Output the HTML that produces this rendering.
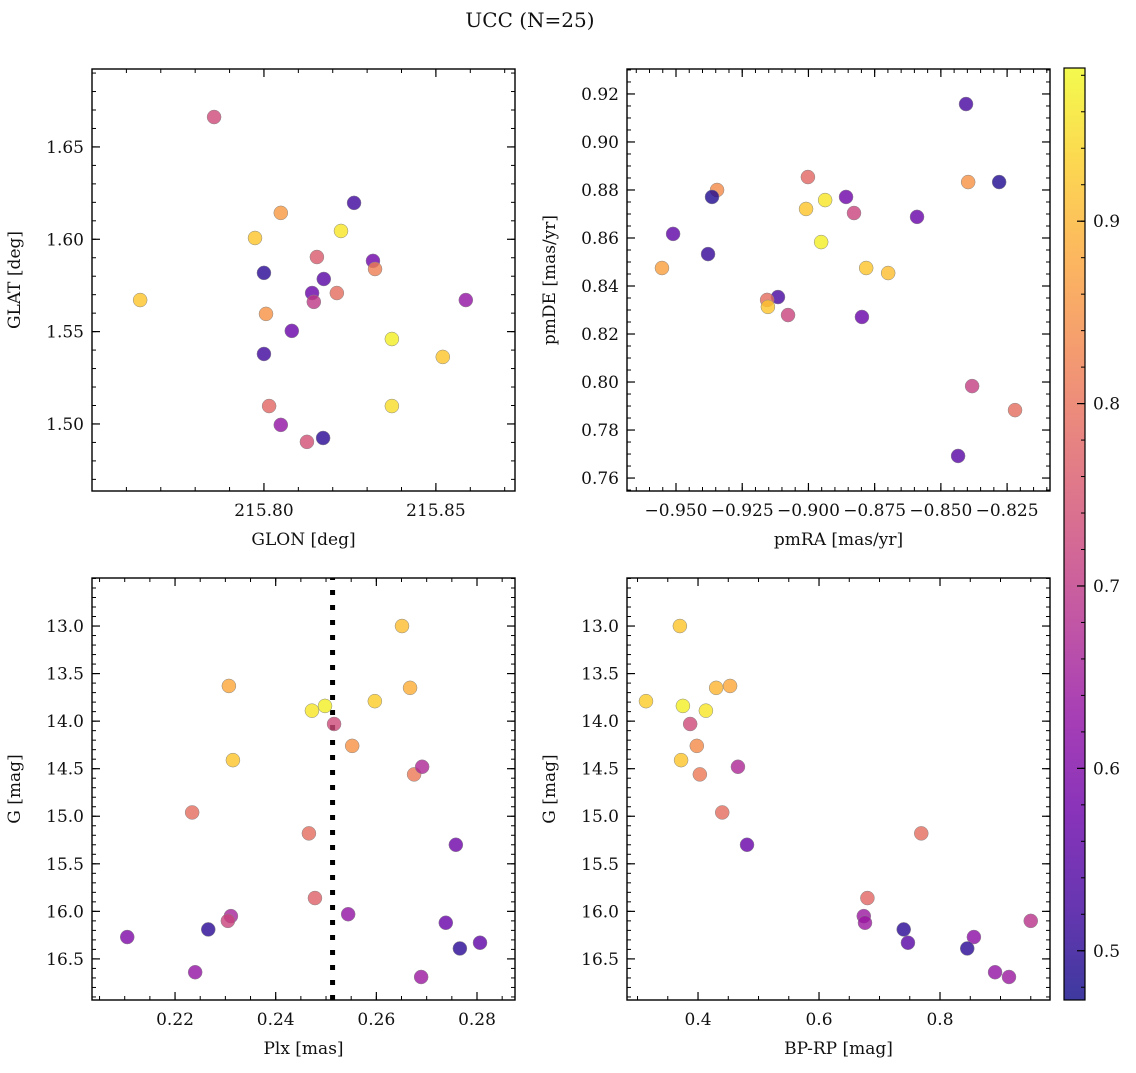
<!DOCTYPE html>
<html><head><meta charset="utf-8"><style>
body{margin:0;background:#fff;}
svg text{font-family:"DejaVu Serif","Liberation Serif",serif;fill:#111;}
</style></head><body>
<svg id="fig" width="1136" height="1068" xmlns="http://www.w3.org/2000/svg">
<text x="530" y="27" font-size="20" text-anchor="middle">UCC (N=25)</text>
</svg>
<script>
// Panel 1: GLON vs GLAT
const p1x=[215.7855,215.8049,215.8262,215.7974,215.8224,215.8154,215.8317,215.8000,215.8323,215.8174,215.8140,215.8212,215.8145,215.7640,215.8006,215.8081,215.8372,215.8000,215.8520,215.8587,215.8015,215.8372,215.8049,215.8125,215.8172];
const p1y=[1.6662,1.6143,1.6197,1.6007,1.6045,1.5904,1.5883,1.5818,1.5839,1.5785,1.5709,1.5709,1.5661,1.5671,1.5596,1.5504,1.5460,1.5379,1.5363,1.5671,1.5097,1.5097,1.4995,1.4903,1.4924];
const p1c=[0.73,0.86,0.52,0.92,0.96,0.76,0.58,0.50,0.82,0.55,0.57,0.79,0.70,0.92,0.85,0.57,0.97,0.52,0.92,0.63,0.78,0.95,0.63,0.74,0.50];
// Panel 2: pmRA vs pmDE
const p2x=[-0.8405,-0.8280,-0.8397,-0.9002,-0.9345,-0.9364,-0.8858,-0.8937,-0.9009,-0.8828,-0.8590,-0.9511,-0.8952,-0.9379,-0.9553,-0.8782,-0.8699,-0.9115,-0.9156,-0.9153,-0.9077,-0.8798,-0.8382,-0.8220,-0.8435];
const p2y=[0.9158,0.8833,0.8833,0.8854,0.8800,0.8771,0.8771,0.8758,0.8721,0.8704,0.8688,0.8617,0.8583,0.8533,0.8475,0.8475,0.8454,0.8354,0.8342,0.8313,0.8279,0.8271,0.7983,0.7883,0.7692];
const p2c=[0.53,0.49,0.85,0.78,0.84,0.49,0.58,0.96,0.92,0.72,0.57,0.56,0.97,0.51,0.87,0.92,0.91,0.53,0.79,0.92,0.72,0.57,0.71,0.79,0.55];
// Panel 3: Plx vs G
const p3x=[0.2651,0.2307,0.2667,0.2498,0.2472,0.2597,0.2516,0.2315,0.2552,0.2675,0.2691,0.2234,0.2466,0.2758,0.2478,0.2311,0.2305,0.2544,0.2266,0.2738,0.2105,0.2806,0.2766,0.2240,0.2689];
const p3y=[13.00,13.63,13.65,13.84,13.89,13.79,14.03,14.41,14.26,14.56,14.48,14.96,15.18,15.30,15.86,16.05,16.10,16.03,16.19,16.12,16.27,16.33,16.39,16.64,16.69];
const p3c=[0.91,0.88,0.89,0.97,0.96,0.93,0.73,0.92,0.85,0.81,0.67,0.79,0.79,0.58,0.77,0.66,0.72,0.63,0.50,0.57,0.60,0.56,0.50,0.63,0.64];
const plxLine=0.2513;
// Panel 4: BP-RP vs G
const p4x=[0.370,0.314,0.375,0.430,0.453,0.413,0.387,0.372,0.398,0.403,0.466,0.440,0.769,0.481,0.680,0.674,0.676,0.950,0.740,0.856,0.747,0.845,0.891,0.914];
const p4y=[13.00,13.79,13.84,13.65,13.63,13.89,14.03,14.41,14.26,14.56,14.48,14.96,15.18,15.30,15.86,16.05,16.12,16.10,16.19,16.27,16.33,16.39,16.64,16.69];
const p4c=[0.92,0.93,0.97,0.90,0.88,0.96,0.73,0.92,0.84,0.81,0.67,0.79,0.79,0.57,0.78,0.64,0.64,0.69,0.50,0.62,0.55,0.50,0.63,0.64];
const cbTicks=[0.5,0.6,0.7,0.8,0.9];

const NS="http://www.w3.org/2000/svg";
const svg=document.getElementById('fig');
const stops=["#0d0887","#41049d","#6a00a8","#8f0da4","#b12a90","#cc4778","#e16462","#f2844b","#fca636","#fcce25","#f0f921"];
const VMIN=0.473,VMAX=0.984,ALPHA=0.8;
function hex(h){return [1,3,5].map(i=>parseInt(h.substr(i,2),16));}
function plasma(t){t=Math.max(0,Math.min(1,t));const f=t*10,i=Math.min(9,Math.floor(f)),r=f-i;const a=hex(stops[i]),b=hex(stops[i+1]);return 'rgb('+a.map((v,k)=>Math.round(v+(b[k]-v)*r)).join(',')+')';}
function cmap(v){return plasma((v-VMIN)/(VMAX-VMIN));}
function mk(tag,at,parent){const e=document.createElementNS(NS,tag);for(const k in at)e.setAttribute(k,at[k]);(parent||svg).appendChild(e);return e;}
function fmt(v,d){const s=Math.abs(v).toFixed(d);return (v<0?'\u2212':'')+s;}
function range(a,b,s){const r=[];for(let v=a;v<=b+s*1e-6;v+=s)r.push(+v.toFixed(6));return r;}

function panel(o){
  const g=mk('g',{});
  
  
  const sx=v=>o.L+(v-o.x0)/(o.x1-o.x0)*(o.R-o.L);
  const sy=o.inv?(v=>o.T+(v-o.y0)/(o.y1-o.y0)*(o.B-o.T)):(v=>o.B-(v-o.y0)/(o.y1-o.y0)*(o.B-o.T));
  o.xmin.forEach(v=>{const x=sx(v);if(x<o.L||x>o.R)return;mk('line',{x1:x,x2:x,y1:o.B,y2:o.B-4,stroke:'#000','stroke-width':1},g);mk('line',{x1:x,x2:x,y1:o.T,y2:o.T+4,stroke:'#000','stroke-width':1},g);});
  o.ymin.forEach(v=>{const y=sy(v);if(y<o.T||y>o.B)return;mk('line',{x1:o.L,x2:o.L+4,y1:y,y2:y,stroke:'#000','stroke-width':1},g);mk('line',{x1:o.R,x2:o.R-4,y1:y,y2:y,stroke:'#000','stroke-width':1},g);});
  o.xt.forEach(v=>{const x=sx(v);mk('line',{x1:x,x2:x,y1:o.B,y2:o.B-8,stroke:'#000','stroke-width':1.2},g);mk('line',{x1:x,x2:x,y1:o.T,y2:o.T+8,stroke:'#000','stroke-width':1.2},g);
    const t=mk('text',{x:x,y:o.B+25,'font-size':17,'text-anchor':'middle'},g);t.textContent=fmt(v,o.xd);});
  o.yt.forEach(v=>{const y=sy(v);mk('line',{x1:o.L,x2:o.L+8,y1:y,y2:y,stroke:'#000','stroke-width':1.2},g);mk('line',{x1:o.R,x2:o.R-8,y1:y,y2:y,stroke:'#000','stroke-width':1.2},g);
    const t=mk('text',{x:o.L-8,y:y+6,'font-size':17,'text-anchor':'end'},g);t.textContent=fmt(v,o.yd);});
  if(o.vline!==undefined){const x=sx(o.vline);const l=mk('line',{x1:x,x2:x,y1:o.T,y2:o.B,stroke:'#000','stroke-width':5,'stroke-dasharray':'5,10','stroke-dashoffset':'-12'},g);}
  o.xs.forEach((v,i)=>{const c=mk('circle',{cx:sx(v),cy:sy(o.ys[i]),r:7,fill:cmap(o.cs[i]),'fill-opacity':ALPHA,stroke:'#888','stroke-width':0.5},g);
    });
  const fr=mk('rect',{x:o.L,y:o.T,width:o.R-o.L,height:o.B-o.T,fill:'none',stroke:'#000','stroke-width':1.4},g);
  
  const xl=mk('text',{x:(o.L+o.R)/2,y:o.B+54,'font-size':17,'text-anchor':'middle'},g);xl.textContent=o.xlab;
  
  const cy=(o.T+o.B)/2,cx=o.L-72;
  const yl=mk('text',{x:cx,y:cy,'font-size':17,'text-anchor':'middle',transform:`rotate(-90 ${cx} ${cy})`},g);yl.textContent=o.ylab;
  
}
panel({name:'glon-glat-panel',L:92,R:515,T:69,B:491,x0:215.75,x1:215.873,y0:1.4637,y1:1.6922,xt:[215.80,215.85],xd:2,xmin:range(215.75,215.87,0.01),yt:[1.50,1.55,1.60,1.65],yd:2,ymin:range(1.47,1.69,0.01),xs:p1x,ys:p1y,cs:p1c,xlab:'GLON [deg]',ylab:'GLAT [deg]'});
panel({name:'pm-panel',L:627,R:1050,T:69,B:491,x0:-0.9685,x1:-0.8088,y0:0.7546,y1:0.9304,xt:range(-0.950,-0.825,0.025),xd:3,xmin:range(-0.965,-0.810,0.005),yt:range(0.76,0.92,0.02),yd:2,ymin:range(0.755,0.930,0.005),xs:p2x,ys:p2y,cs:p2c,xlab:'pmRA [mas/yr]',ylab:'pmDE [mas/yr]'});
panel({name:'plx-g-panel',L:92,R:515,T:578,B:1000,inv:true,x0:0.2035,x1:0.28755,y0:12.495,y1:16.932,xt:[0.22,0.24,0.26,0.28],xd:2,xmin:range(0.205,0.285,0.005),yt:range(13,16.5,0.5),yd:1,ymin:range(12.5,16.9,0.1),xs:p3x,ys:p3y,cs:p3c,vline:plxLine,xlab:'Plx [mas]',ylab:'G [mag]'});
panel({name:'cmd-panel',L:627,R:1050,T:578,B:1000,inv:true,x0:0.2826,x1:0.9818,y0:12.495,y1:16.932,xt:[0.4,0.6,0.8],xd:1,xmin:range(0.3,0.95,0.05),yt:range(13,16.5,0.5),yd:1,ymin:range(12.5,16.9,0.1),xs:p4x,ys:p4y,cs:p4c,xlab:'BP-RP [mag]',ylab:'G [mag]'});

// colorbar
const cb=mk('g',{});


const cT=68,cB=1000,cL=1064,cR=1085;
const defs=mk('defs',{},cb);const gr=mk('linearGradient',{id:'cg',x1:0,y1:1,x2:0,y2:0},defs);
for(let i=0;i<=20;i++)mk('stop',{offset:i/20,'stop-color':plasma(i/20)},gr);
mk('rect',{x:cL,y:cT,width:cR-cL,height:cB-cT,fill:'url(#cg)','fill-opacity':ALPHA},cb);
mk('rect',{x:cL,y:cT,width:cR-cL,height:cB-cT,fill:'none',stroke:'#000','stroke-width':1.2},cb);
const cy=v=>cB-(v-VMIN)/(VMAX-VMIN)*(cB-cT);
range(0.48,0.98,0.02).forEach(v=>{mk('line',{x1:cR,x2:cR-4,y1:cy(v),y2:cy(v),stroke:'#000'},cb);});
cbTicks.forEach(v=>{const y=cy(v);mk('line',{x1:cR,x2:cR-8,y1:y,y2:y,stroke:'#000','stroke-width':1.2},cb);
  const t=mk('text',{x:cR+8,y:y+6,'font-size':17},cb);t.textContent=v.toFixed(1);
  });
</script>
</body></html>
